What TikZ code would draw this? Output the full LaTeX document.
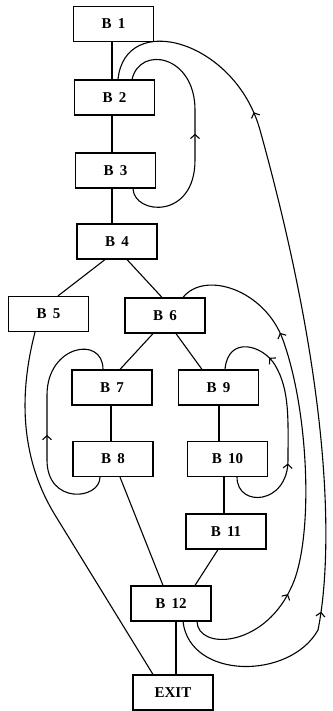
\documentclass[tikz,border=0pt]{standalone}
\usepackage{fontspec}
\setmainfont{Liberation Serif}
\usetikzlibrary{arrows.meta,decorations.markings}

\tikzset{
  chev/.tip={Straight Barb[length=4pt,width=9pt,line width=1.1pt]},
  blk/.style={draw, line width=1.2pt, minimum width=80pt, minimum height=35pt,
    inner sep=0pt, font=\fontsize{15}{17}\selectfont\bfseries},
  flow/.style={line width=1.1pt},
  back/.style={line width=1.1pt, line cap=round, postaction={decorate}},
}
\newcommand{\blab}[1]{B\hspace{0.42em}#1}

\begin{document}
\begin{tikzpicture}[x=1pt,y=-1pt]
\useasboundingbox (0,0) rectangle (332,711);

% basic blocks
\node[blk] (b1)  at (113.5,24)  {\blab{1}};
\node[blk] (b2)  at (114.5,97.5) {\blab{2}};
\node[blk] (b3)  at (115.5,170.5) {\blab{3}};
\node[blk] (b4)  at (117,241.5) {\blab{4}};
\node[blk] (b5)  at (48.5,314)  {\blab{5}};
\node[blk] (b6)  at (165,315.5) {\blab{6}};
\node[blk] (b7)  at (112,387.5) {\blab{7}};
\node[blk] (b9)  at (218.5,387.5) {\blab{9}};
\node[blk] (b8)  at (113,459)   {\blab{8}};
\node[blk] (b10) at (227.5,459) {\blab{10}};
\node[blk] (b11) at (226,531.5) {\blab{11}};
\node[blk] (b12) at (171,603.5) {\blab{12}};
\node[blk] (exit) at (173,692.5) {EXIT};

% forward edges
\draw[flow] ([xshift=-1.5pt]b1.south) -- ([xshift=-2.5pt]b2.north);
\draw[flow] ([xshift=-2.5pt]b2.south) -- ([xshift=-3.5pt]b3.north);
\draw[flow] ([xshift=-3.5pt]b3.south) -- ([xshift=-5pt]b4.north);
\draw[flow] ([xshift=-12pt]b4.south) -- ([xshift=9.5pt]b5.north);
\draw[flow] ([xshift=10pt]b4.south) -- ([xshift=-3pt]b6.north);
\draw[flow] ([xshift=-12pt]b6.south) -- ([xshift=8pt]b7.north);
\draw[flow] ([xshift=11pt]b6.south) -- ([xshift=-16.5pt]b9.north);
\draw[flow] ([xshift=-1pt]b7.south) -- ([xshift=-2pt]b8.north);
\draw[flow] ([xshift=0.5pt]b9.south) -- ([xshift=-8.5pt]b10.north);
\draw[flow] ([xshift=-3.5pt]b10.south) -- ([xshift=-2pt]b11.north);
\draw[flow] ([xshift=-8pt]b11.south) -- ([xshift=24pt]b12.north);
\draw[flow] ([xshift=7pt]b8.south) -- ([xshift=-8pt]b12.north);
\draw[flow] ([xshift=5pt]b12.south) -- ([xshift=3pt]exit.north);
\draw[flow] ([xshift=-13.5pt]b5.south)
  .. controls (20,390) and (18.4,455) .. (55,515) -- ([xshift=-20pt]exit.north);

% back edges
\draw[back, decoration={markings, mark=at position 128pt with {\arrow{chev}}}]
  ([xshift=17.5pt]b3.south) .. controls (134,215) and (195,220) .. (195,160)
  -- (195,110) .. controls (195,55) and (140,45) .. ([xshift=17.5pt]b2.north);

\draw[back, decoration={markings,
    mark=at position 108pt with {\arrow{chev}}}]
  ([xshift=-13pt]b8.south) .. controls (100,500) and (47,505) .. (47,460)
  -- (47,395) .. controls (47,345) and (103,335) .. ([xshift=-9pt]b7.north);

\draw[back, decoration={markings,
    mark=at position 83pt with {\arrow{chev}},
    mark=at position -61pt with {\arrow{chev}}}]
  ([xshift=9.5pt]b10.south) .. controls (237,508) and (288,505) .. (288,460)
  .. controls (288,420) and (290,390) .. (275,365)
  .. controls (263,345) and (228,335) .. ([xshift=6.5pt]b9.north);

\draw[back, decoration={markings,
    mark=at position 118pt with {\arrow{chev}},
    mark=at position -120pt with {\arrow{chev}}}]
  ([xshift=26pt]b12.south) .. controls (198,650) and (262,648) .. (290,590)
  .. controls (314,545) and (310,415) .. (283,340)
  .. controls (265,290) and (205,270) .. ([xshift=18pt]b6.north);

\draw[back, decoration={markings,
    mark=at position 188pt with {\arrow{chev}},
    mark=at position -187pt with {\arrow{chev}}}]
  ([xshift=12pt]b12.south) .. controls (190,680) and (290,680) .. (318,630)
  .. controls (332,560) and (335,400) .. (260,130)
  .. controls (235,40) and (125,10) .. ([xshift=3.5pt]b2.north);

\end{tikzpicture}
\end{document}
